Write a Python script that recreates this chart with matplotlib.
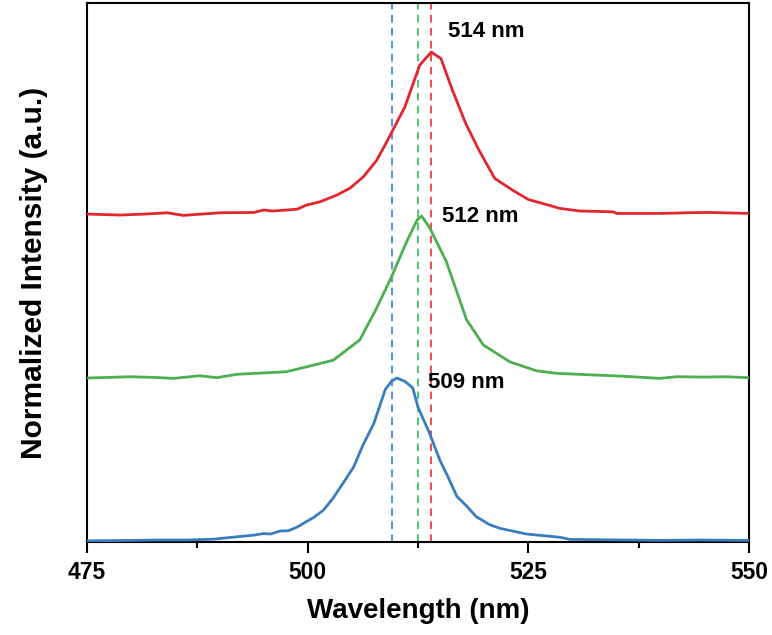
import matplotlib.pyplot as plt
import numpy as np

plt.rcParams['font.family'] = ['Liberation Sans', 'DejaVu Sans']
plt.rcParams['font.weight'] = 'bold'

# wavelength (nm) and normalized intensity of each spectrum
blueX = [475, 479, 483, 486.3, 489.3, 492.0, 493.9, 495.0, 495.8, 496.9, 497.8, 498.8,
         500.7, 501.8, 502.9, 504.0, 505.2, 506.3, 507.5, 508.8, 509.5, 510.1, 511.0,
         511.9, 512.5, 513.8, 515.0, 515.9, 516.9, 518.0, 519.1, 520.6, 521.8, 524.8,
         528.6, 529.7, 533, 536.1, 540, 544, 550]
blueY = [-0.005, -0.003, 0.0, 0.0, 0.005, 0.02, 0.03, 0.04, 0.037, 0.056, 0.057, 0.08,
         0.14, 0.185, 0.26, 0.35, 0.45, 0.59, 0.72, 0.93, 0.98, 1.0, 0.98,
         0.94, 0.82, 0.66, 0.49, 0.39, 0.27, 0.21, 0.144, 0.095, 0.072, 0.037,
         0.017, 0.004, 0.002, 0.0, -0.002, 0.0, -0.002]

greenX = [475, 477.5, 479.9, 482.5, 484.8, 487.8, 489.7, 492.0, 494.5, 497.6, 499.2,
          502.9, 505.9, 507.8, 509.5, 511.2, 512.4, 512.9, 513.8, 515.7, 518.0, 519.9,
          522.9, 525.9, 528.2, 532.3, 535.4, 539.9, 541.8, 545, 547.4, 550]
greenY = [0.0, 0.004, 0.008, 0.004, -0.002, 0.014, 0.002, 0.023, 0.03, 0.039, 0.06,
          0.11, 0.235, 0.43, 0.625, 0.84, 0.975, 1.0, 0.93, 0.72, 0.36, 0.204,
          0.10, 0.045, 0.029, 0.019, 0.012, -0.002, 0.008, 0.006, 0.008, 0.002]

redX = [475, 478.8, 481.5, 484.1, 485.9, 488, 490.1, 493.9, 495.0, 496.1, 498.8, 499.9,
        501.4, 503.3, 504.8, 506.3, 507.8, 508.9, 511.0, 512.7, 514.0, 515.1, 516.4,
        517.9, 519.4, 521.2, 523.2, 525.0, 528.6, 530.8, 534.6, 535.0, 539.9, 543,
        545.2, 550]
redY = [0.0, -0.006, 0.0, 0.008, -0.008, 0.0, 0.008, 0.01, 0.025, 0.019, 0.03, 0.056,
        0.076, 0.117, 0.16, 0.23, 0.33, 0.44, 0.66, 0.92, 1.0, 0.96, 0.765,
        0.56, 0.395, 0.22, 0.148, 0.09, 0.035, 0.019, 0.014, 0.004, 0.004, 0.008,
        0.01, 0.004]

offsets = [0.0, 1.0, 2.012]
peakLines = [509.6, 512.5, 514.0]
peakLabels = ['509 nm', '512 nm', '514 nm']
labelPos = [(513.6, 0.975), (515.2, 2.0), (515.85, 3.136)]

lineColors = ['#3a7dbf', '#4caf50', '#e3262d']
dashColors = ['#1f78d1', '#1db954', '#f01c1c']

fig = plt.figure(figsize=(7.72, 6.35), dpi=100)
ax = fig.add_axes([0.1127, 0.1465, 0.8575, 0.8488])

allX = [blueX, greenX, redX]
allY = [blueY, greenY, redY]
for i in range(3):
    ax.plot(allX[i], np.array(allY[i]) + offsets[i], color=lineColors[i], lw=2.0, zorder=3)

for i in range(3):
    ax.axvline(peakLines[i], color=dashColors[i], lw=1.1, ls=(0, (5, 3.5)), zorder=2)

for i in range(3):
    ax.text(labelPos[i][0], labelPos[i][1], peakLabels[i], fontsize=16, fontweight='bold',
            ha='left', va='center')

ax.set_xlim(475, 550)
ax.set_ylim(-0.012, 3.315)
ax.set_xticks([475, 500, 525, 550])
ax.set_xticks([487.5, 512.5, 537.5], minor=True)
ax.set_yticks([])
ax.tick_params(axis='x', which='major', direction='out', length=8, width=1.5,
               labelsize=16.5, pad=6)
ax.tick_params(axis='x', which='minor', direction='out', length=4, width=1.5)
for s in ax.spines.values():
    s.set_linewidth(1.5)

ax.set_xlabel('Wavelength (nm)', fontsize=20, fontweight='bold', labelpad=10)
ax.set_ylabel('Normalized Intensity (a.u.)', fontsize=21.5, fontweight='bold', labelpad=28)

fig.savefig('out.png', dpi=100)
